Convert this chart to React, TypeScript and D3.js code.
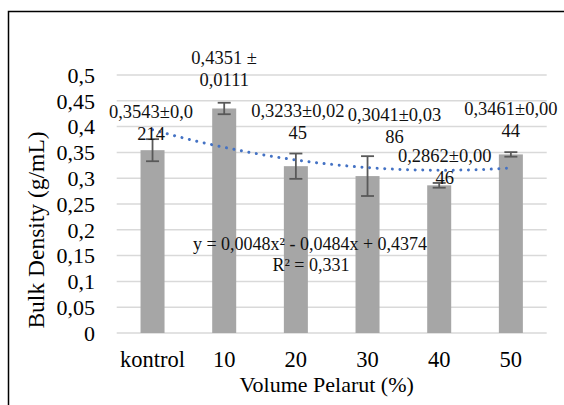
import { useMemo } from "react";
import * as d3 from "d3";

const W = 564;
const H = 405;
const FONT = "Liberation Serif, Times New Roman, Times, serif";

const categories = ["kontrol", "10", "20", "30", "40", "50"];
const means = [0.3543, 0.4351, 0.3233, 0.3041, 0.2862, 0.3461];
const errors = [0.0214, 0.0111, 0.0245, 0.0386, 0.0046, 0.0044];
const labelLines = [
  ["0,3543±0,0", "214"],
  ["0,4351 ±", "0,0111"],
  ["0,3233±0,02", "45"],
  ["0,3041±0,03", "86"],
  ["0,2862±0,00", "46"],
  ["0,3461±0,00", "44"],
];
const yTicks = [0, 0.05, 0.1, 0.15, 0.2, 0.25, 0.3, 0.35, 0.4, 0.45, 0.5];
// polynomial trendline shown on the chart: a0 + a1*x + a2*x^2
const trendCoef = [0.4374, -0.0484, 0.0048];
const trendText = ["y = 0,0048x² - 0,0484x + 0,4374", "R² = 0,331"];

// manual nudges for the data labels (Excel moved some of them)
const LABEL_OFFSET = [
  { dx: -1.5, dy: -10 },
  { dx: 0, dy: -22.5 },
  { dx: 2, dy: -27 },
  { dx: 27, dy: -33 },
  { dx: 5.5, dy: -1 },
  { dx: 0, dy: -17 },
];

const PLOT = { left: 116.7, right: 546.7, top: 75, bottom: 333 };
const GAP = 0.665;

const fmt = (v: number) => String(v).replace(".", ",");

const txt = (size: number) => ({ fontFamily: FONT, fontSize: size });

export default function App() {
  const x = useMemo(
    () =>
      d3
        .scaleBand()
        .domain(categories)
        .range([PLOT.left, PLOT.right])
        .paddingInner(GAP)
        .paddingOuter(GAP / 2),
    []
  );
  const y = useMemo(
    () => d3.scaleLinear().domain([0, 0.5]).range([PLOT.bottom, PLOT.top]),
    []
  );

  const bw = x.bandwidth();
  const cx = (i: number) => (x(categories[i]) as number) + bw / 2;

  // trendline goes from first to last category centre (x = 1..6)
  const xIdx = d3.scaleLinear().domain([1, categories.length]).range([cx(0), cx(categories.length - 1)]);
  const trendPts = d3.range(1, categories.length + 0.001, 0.1).map((t) => {
    const v = trendCoef[0] + trendCoef[1] * t + trendCoef[2] * t * t;
    return [xIdx(t), y(v)] as [number, number];
  });
  const trendPath = d3.line().curve(d3.curveMonotoneX)(trendPts) || "";

  return (
    <svg
      width={W}
      height={H}
      style={{ position: "absolute", left: 0, top: 0, background: "#fff" }}
    >
      <rect x={0} y={0} width={W} height={H} fill="#fff" />
      {/* chart area border */}
      <rect x={8.5} y={11.5} width={700} height={500} fill="none" stroke="#000" strokeWidth={1.5} />

      {/* gridlines + y tick labels */}
      {yTicks.map((t) => (
        <g key={t}>
          <line x1={PLOT.left} x2={PLOT.right} y1={y(t)} y2={y(t)} stroke="#d9d9d9" strokeWidth={1.5} />
          <text x={95} y={y(t)} dy="0.35em" textAnchor="end" style={txt(22)} fill="#000">
            {fmt(t)}
          </text>
        </g>
      ))}

      {/* bars */}
      {means.map((m, i) => (
        <rect
          key={categories[i]}
          x={x(categories[i])}
          y={y(m)}
          width={bw}
          height={y(0) - y(m)}
          fill="#a6a6a6"
        />
      ))}

      {/* error bars */}
      {means.map((m, i) => {
        const c = cx(i);
        const hi = y(m + errors[i]);
        const lo = y(m - errors[i]);
        return (
          <g key={"e" + i} stroke="#595959" strokeWidth={1.8}>
            <line x1={c} x2={c} y1={hi} y2={lo} />
            <line x1={c - 6.5} x2={c + 6.5} y1={hi} y2={hi} />
            <line x1={c - 6.5} x2={c + 6.5} y1={lo} y2={lo} />
          </g>
        );
      })}

      {/* trendline */}
      <path
        d={trendPath}
        fill="none"
        stroke="#4472c4"
        strokeWidth={3}
        strokeLinecap="round"
        strokeDasharray="0.01 7.6"
      />

      {/* data labels */}
      {labelLines.map((lines, i) => {
        const lx = cx(i) + LABEL_OFFSET[i].dx;
        const base = y(means[i]) + LABEL_OFFSET[i].dy;
        return (
          <text key={"l" + i} textAnchor="middle" style={txt(18.5)} fill="#111">
            <tspan x={lx} y={base - 22}>{lines[0]}</tspan>
            <tspan x={lx} y={base}>{lines[1]}</tspan>
          </text>
        );
      })}

      {/* trendline equation */}
      <text textAnchor="middle" style={txt(18)} fill="#111">
        <tspan x={310} y={250}>{trendText[0]}</tspan>
        <tspan x={311} y={271}>{trendText[1]}</tspan>
      </text>

      {/* category labels */}
      {categories.map((c, i) => (
        <text key={"c" + c} x={cx(i)} y={367} textAnchor="middle" style={txt(22.5)} fill="#000">
          {c}
        </text>
      ))}

      {/* axis titles */}
      <text x={(PLOT.left + PLOT.right) / 2 - 5} y={392} textAnchor="middle" style={txt(22)} fill="#000">
        Volume Pelarut (%)
      </text>
      <text
        transform={`translate(44, 230) rotate(-90)`}
        textAnchor="middle"
        style={txt(23.5)}
        fill="#000"
      >
        Bulk Density (g/mL)
      </text>
    </svg>
  );
}
